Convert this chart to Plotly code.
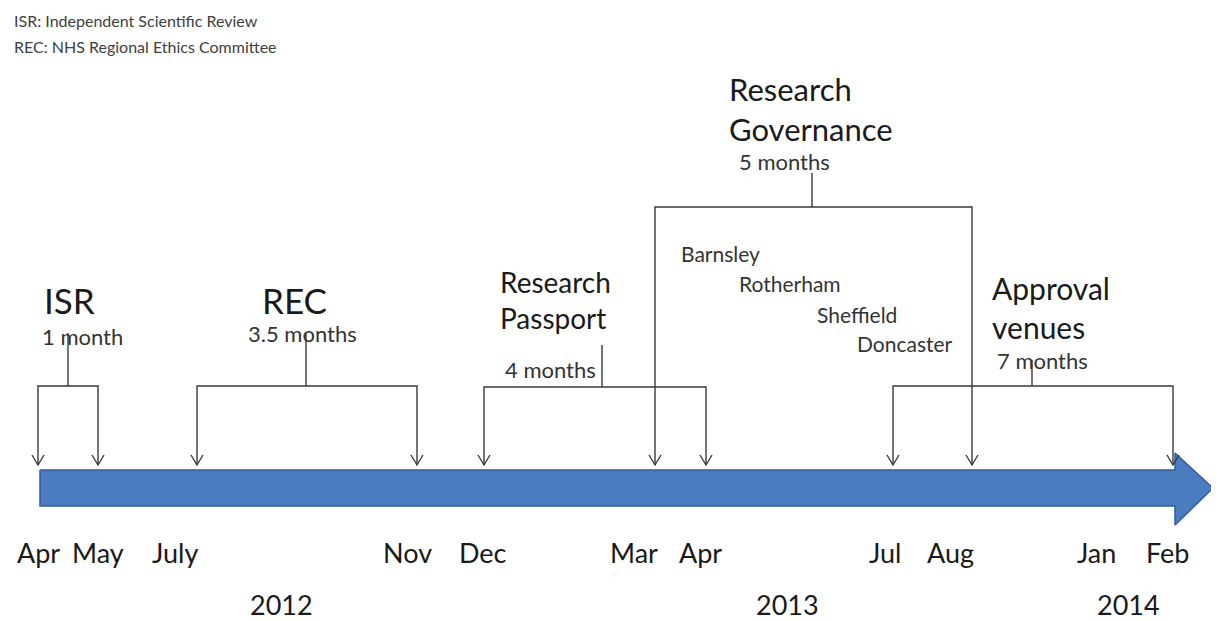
import plotly.graph_objects as go

# ---------------- data ----------------
legend_lines = ["ISR: Independent Scientific Review", "REC: NHS Regional Ethics Committee"]

month_labels = ["Apr", "May", "July", "Nov", "Dec", "Mar", "Apr", "Jul", "Aug", "Jan", "Feb"]
month_pos = [38, 98, 175, 407, 483, 634, 700, 885, 950, 1096, 1167]

year_labels = ["2012", "2013", "2014"]
year_pos = [281, 787, 1128]

phase_names = ["ISR", "REC", "Research<br>Passport", "Research<br>Governance", "Approval<br>venues"]
phase_durations = ["1 month", "3.5 months", "4 months", "5 months", "7 months"]
phase_start = [38, 197, 484, 655, 893]
phase_end = [98, 417, 706, 972, 1173]

sites = ["Barnsley", "Rotherham", "Sheffield", "Doncaster"]

# ---------------- layout helpers (positions/styles) ----------------
W, H = 1219, 621
OFF = 8  # page body margin of the html page
bracket_y = [386, 386, 387, 207, 386]
stem_x = [68, 306, 602, 812, 1032]
stem_top = [333, 333, 345, 173, 360]
title_x = [42, 260, 498, 727, 990]
title_y = [300, 300, 300, 109, 307]
title_size = [35, 35, 28, 31, 30]
dur_x = [40, 246, 503, 737, 995]
dur_y = [336, 333, 369, 161, 360]
site_x = [679, 737, 815, 855]
site_y = [253, 283, 314, 343]
tip_y = 465
FONT = "Lato"
LINE = "#3a3a3a"

fig = go.Figure()

# big blue timeline arrow
body_top, body_bot, head_top, head_bot = 470, 506, 453, 525
x0, xh, xt = 40, 1175, 1213
ax = [x0, xh, xh, xt, xh, xh, x0, x0]
ay = [body_top, body_top, head_top, (body_top + body_bot) / 2, head_bot, body_bot, body_bot, body_top]
fig.add_trace(go.Scatter(x=ax, y=ay, mode="lines", fill="toself", fillcolor="#4A7CC0",
                         line=dict(color="#335C9C", width=1.5), hoverinfo="skip", showlegend=False))

# brackets with arrows
lx, ly = [], []
for i in range(len(phase_names)):
    s, e, by = phase_start[i], phase_end[i], bracket_y[i]
    lx += [s, s, e, e, None]
    ly += [tip_y, by, by, tip_y, None]
    lx += [stem_x[i], stem_x[i], None]
    ly += [by, stem_top[i], None]
    for px in (s, e):
        lx += [px - 6, px, px + 6, None]
        ly += [tip_y - 10, tip_y, tip_y - 10, None]
fig.add_trace(go.Scatter(x=lx, y=ly, mode="lines", line=dict(color=LINE, width=1.4),
                         hoverinfo="skip", showlegend=False))

ann = []
for i, t in enumerate(legend_lines):
    ann.append(dict(x=12, y=20 + 26 * i, text=t, xanchor="left", yanchor="middle", showarrow=False,
                    font=dict(family=FONT, size=16, color="#404040")))
for i in range(len(phase_names)):
    ann.append(dict(x=title_x[i], y=title_y[i], text=phase_names[i], xanchor="left", yanchor="middle",
                    align="left", showarrow=False,
                    font=dict(family=FONT, size=title_size[i], color="#1a1a1a")))
    ann.append(dict(x=dur_x[i], y=dur_y[i], text=phase_durations[i], xanchor="left", yanchor="middle",
                    showarrow=False, font=dict(family=FONT, size=22, color="#333333")))
for i, s in enumerate(sites):
    ann.append(dict(x=site_x[i], y=site_y[i], text=s, xanchor="left", yanchor="middle",
                    showarrow=False, font=dict(family=FONT, size=21, color="#333333")))
for m, p in zip(month_labels, month_pos):
    ann.append(dict(x=p, y=552, text=m, xanchor="center", yanchor="middle", showarrow=False,
                    font=dict(family=FONT, size=27, color="#1a1a1a")))
for yl, p in zip(year_labels, year_pos):
    ann.append(dict(x=p, y=604, text=yl, xanchor="center", yanchor="middle", showarrow=False,
                    font=dict(family=FONT, size=27, color="#1a1a1a")))

fig.update_layout(
    width=W - OFF, height=H - OFF, margin=dict(l=0, r=0, t=0, b=0),
    paper_bgcolor="white", plot_bgcolor="white",
    xaxis=dict(range=[OFF, W], visible=False, fixedrange=True),
    yaxis=dict(range=[H, OFF], visible=False, fixedrange=True),
    annotations=ann, showlegend=False,
)

fig.write_html("out.html")
